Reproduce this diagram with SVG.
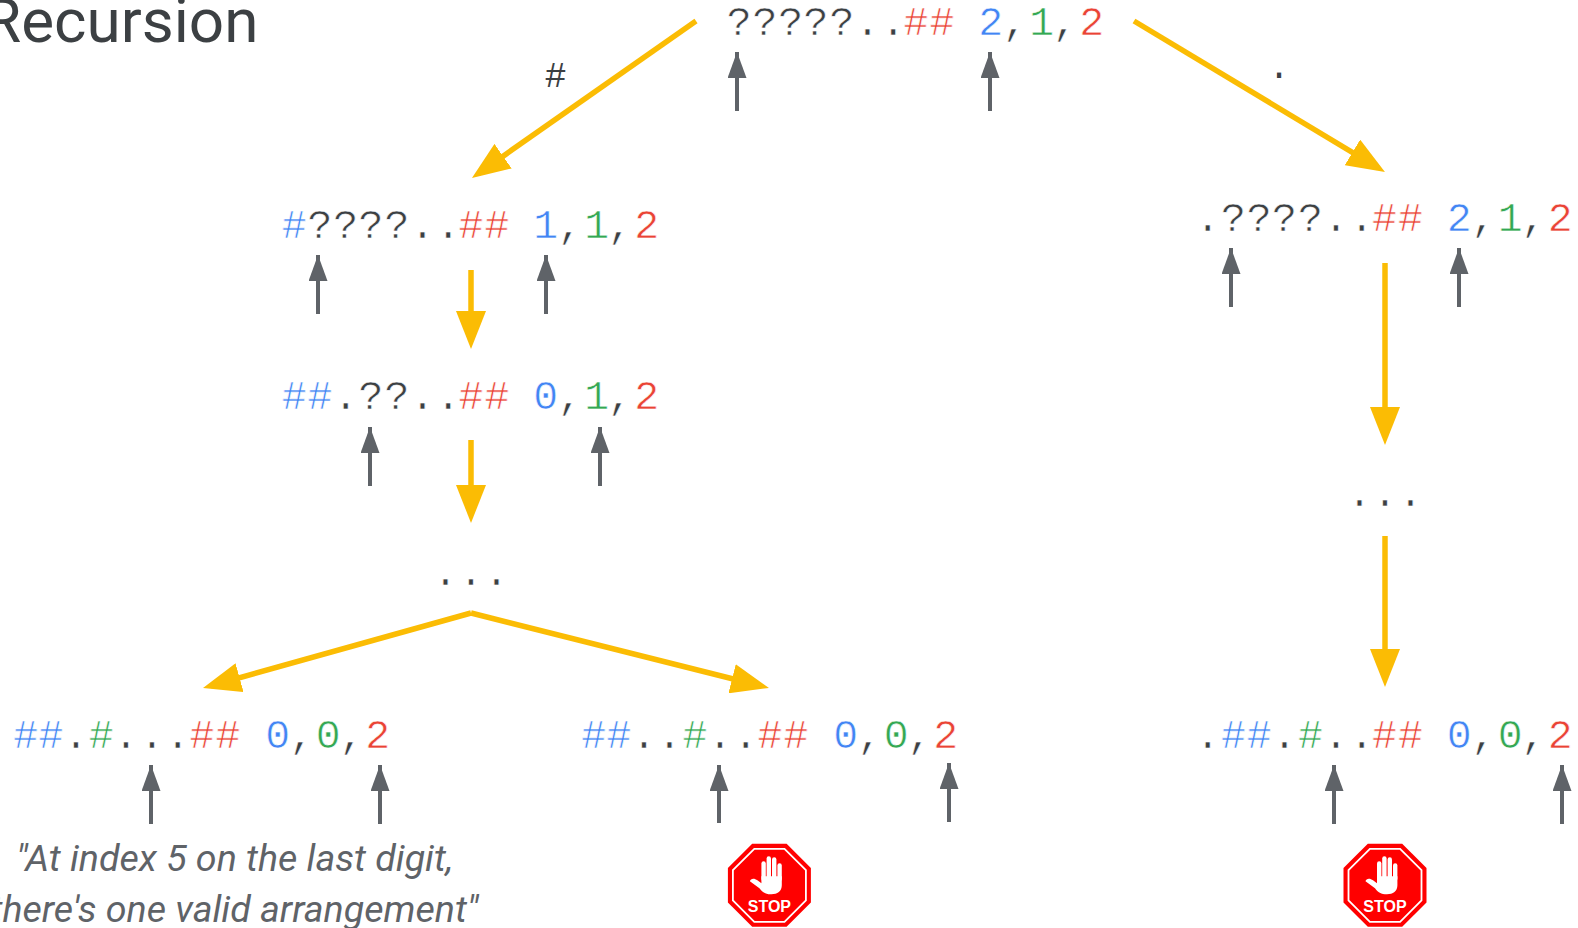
<svg xmlns="http://www.w3.org/2000/svg" width="1578" height="928" viewBox="0 0 1578 928">
<style>
text{font-family:"Liberation Mono",monospace;}
.m{font-size:41.5px;text-anchor:middle;fill:#3c4043;stroke:#fff;stroke-width:.6}
.b{fill:#4285f4}.g{fill:#34a853}.r{fill:#ea4335}
.t{font-family:"Roboto","Liberation Sans",sans-serif;font-size:62px;fill:#3c4043}
.q{font-family:"Roboto","Liberation Sans",sans-serif;font-style:italic;font-size:37.6px;fill:#5f6368;text-anchor:middle}
.l{font-size:36px;fill:#3c4043;text-anchor:middle}
.y{stroke:#fbbc04;stroke-width:5.5;fill:none}
.k{stroke:#5f6368;stroke-width:4;fill:none}
.s{font-family:"Liberation Sans",sans-serif;font-weight:bold;font-size:16px;fill:#fff;text-anchor:middle}
</style>
<defs>
<marker id="ya" markerUnits="userSpaceOnUse" markerWidth="40" markerHeight="30" refX="30" refY="15" orient="auto"><path d="M0,0L38,15L0,30Z" fill="#fbbc04"/></marker>
<marker id="ka" markerUnits="userSpaceOnUse" markerWidth="27" markerHeight="20" refX="26" refY="9.5" orient="auto"><path d="M0,0L26,9.5L0,19Z" fill="#5f6368"/></marker>
<g id="stop">
<path d="M-17.2,-41.5H17.2L41.5,-17.2V17.2L17.2,41.5H-17.2L-41.5,17.2V-17.2Z" fill="#f00"/>
<path d="M-15.1,-36.5H15.1L36.5,-15.1V15.1L15.1,36.5H-15.1L-36.5,15.1V-15.1Z" fill="none" stroke="#fff" stroke-width="1.8"/>
<g fill="#fff">
<rect x="-8" y="-24" width="4.4" height="20" rx="2.2"/>
<rect x="-2.8" y="-29" width="4.4" height="25" rx="2.2"/>
<rect x="2.6" y="-28" width="4.4" height="24" rx="2.2"/>
<rect x="8" y="-22" width="4.4" height="18" rx="2.2"/>
<path d="M-8,-9H12.4V0C12.4,6 8,9 2,9C-4,9 -7,7 -10,3L-19.5,-4C-19,-7 -15,-7.5 -12,-5L-8,-2Z"/>
</g>
</g>
</defs>
<text class="t" x="-17" y="42">Recursion</text>
<g id="connectors">
<path class="y" d="M696,21L478.5,173.4" marker-end="url(#ya)"/>
<path class="y" d="M1134,21L1378.1,167.9" marker-end="url(#ya)"/>
<path class="y" d="M471,270V341" marker-end="url(#ya)"/>
<path class="y" d="M471,440V515" marker-end="url(#ya)"/>
<path class="y" d="M1385,263V437" marker-end="url(#ya)"/>
<path class="y" d="M1385,536V679" marker-end="url(#ya)"/>
<path class="y" d="M471,613L210.7,685.8" marker-end="url(#ya)"/>
<path class="y" d="M471,613L761.2,686" marker-end="url(#ya)"/>
<path class="k" d="M737,111V52" marker-end="url(#ka)"/>
<path class="k" d="M990,111V52" marker-end="url(#ka)"/>
<path class="k" d="M318,314V255" marker-end="url(#ka)"/>
<path class="k" d="M546,314V255" marker-end="url(#ka)"/>
<path class="k" d="M370,486V427" marker-end="url(#ka)"/>
<path class="k" d="M600,486V427" marker-end="url(#ka)"/>
<path class="k" d="M1231,307V248" marker-end="url(#ka)"/>
<path class="k" d="M1459,307V248" marker-end="url(#ka)"/>
<path class="k" d="M151,824V765" marker-end="url(#ka)"/>
<path class="k" d="M380,824V765" marker-end="url(#ka)"/>
<path class="k" d="M719,823V765" marker-end="url(#ka)"/>
<path class="k" d="M949,822V763" marker-end="url(#ka)"/>
<path class="k" d="M1334,824V765" marker-end="url(#ka)"/>
<path class="k" d="M1562,824V765" marker-end="url(#ka)"/>
</g>
<text class="l" x="555.5" y="87">#</text>
<text class="l" x="1279" y="78">.</text>
<g id="n1"><text class="m" y="35"><tspan x="739.3 765 790.7 816 842 867.5 893.3">?????..</tspan><tspan class="r" x="916 942">##</tspan><tspan class="b" x="990.7">2</tspan><tspan x="1015">,</tspan><tspan class="g" x="1041.7">1</tspan><tspan x="1065">,</tspan><tspan class="r" x="1091.7">2</tspan></text></g>
<g id="n2"><text class="m" y="238"><tspan class="b" x="294.3">#</tspan><tspan x="320 345.7 371 397 422.5 448.3">????..</tspan><tspan class="r" x="471 497">##</tspan><tspan class="b" x="545.7">1</tspan><tspan x="570">,</tspan><tspan class="g" x="596.7">1</tspan><tspan x="620">,</tspan><tspan class="r" x="646.7">2</tspan></text></g>
<g id="n3"><text class="m" y="409"><tspan class="b" x="294.3 320">##</tspan><tspan x="345.7 371 397 422.5 448.3">.??..</tspan><tspan class="r" x="471 497">##</tspan><tspan class="b" x="545.7">0</tspan><tspan x="570">,</tspan><tspan class="g" x="596.7">1</tspan><tspan x="620">,</tspan><tspan class="r" x="646.7">2</tspan></text></g>
<g id="n4"><text class="m" y="585" x="445.5 471 496.5">...</text></g>
<g id="n5"><text class="m" y="231"><tspan x="1207.8 1233.5 1259.2 1284.5 1310.5 1336 1361.8">.????..</tspan><tspan class="r" x="1384.5 1410.5">##</tspan><tspan class="b" x="1459.2">2</tspan><tspan x="1483.5">,</tspan><tspan class="g" x="1510.2">1</tspan><tspan x="1533.5">,</tspan><tspan class="r" x="1560.2">2</tspan></text></g>
<g id="n6"><text class="m" y="506" x="1359.5 1385 1410.5">...</text></g>
<g id="n7"><text class="m" y="748"><tspan class="b" x="25.7 51">##</tspan><tspan x="76">.</tspan><tspan class="g" x="101.3">#</tspan><tspan x="126 152 177.7">...</tspan><tspan class="r" x="202 228">##</tspan><tspan class="b" x="277.7">0</tspan><tspan x="301.7">,</tspan><tspan class="g" x="328.3">0</tspan><tspan x="351.7">,</tspan><tspan class="r" x="377.7">2</tspan></text></g>
<g id="n8"><text class="m" y="748"><tspan class="b" x="593.7 619">##</tspan><tspan x="644 669.5">..</tspan><tspan class="g" x="695">#</tspan><tspan x="720 745.7">..</tspan><tspan class="r" x="770 796">##</tspan><tspan class="b" x="845.7">0</tspan><tspan x="869.7">,</tspan><tspan class="g" x="896.3">0</tspan><tspan x="919.7">,</tspan><tspan class="r" x="945.7">2</tspan></text></g>
<g id="n9"><text class="m" y="748"><tspan x="1207.8">.</tspan><tspan class="b" x="1233.5 1259.2">##</tspan><tspan x="1284.5">.</tspan><tspan class="g" x="1310.5">#</tspan><tspan x="1336 1361.8">..</tspan><tspan class="r" x="1384.5 1410.5">##</tspan><tspan class="b" x="1459.2">0</tspan><tspan x="1483.5">,</tspan><tspan class="g" x="1510.2">0</tspan><tspan x="1533.5">,</tspan><tspan class="r" x="1560.2">2</tspan></text></g>
<g id="note"><text class="q" x="234.5" y="871">"At index 5 on the last digit,</text><text class="q" x="234.5" y="922">there's one valid arrangement"</text></g>
<g id="stop1" transform="translate(769.4,885.3)"><use href="#stop"/><text class="s" y="26.4">STOP</text></g>
<g id="stop2" transform="translate(1385,885.3)"><use href="#stop"/><text class="s" y="26.4">STOP</text></g>
</svg>
